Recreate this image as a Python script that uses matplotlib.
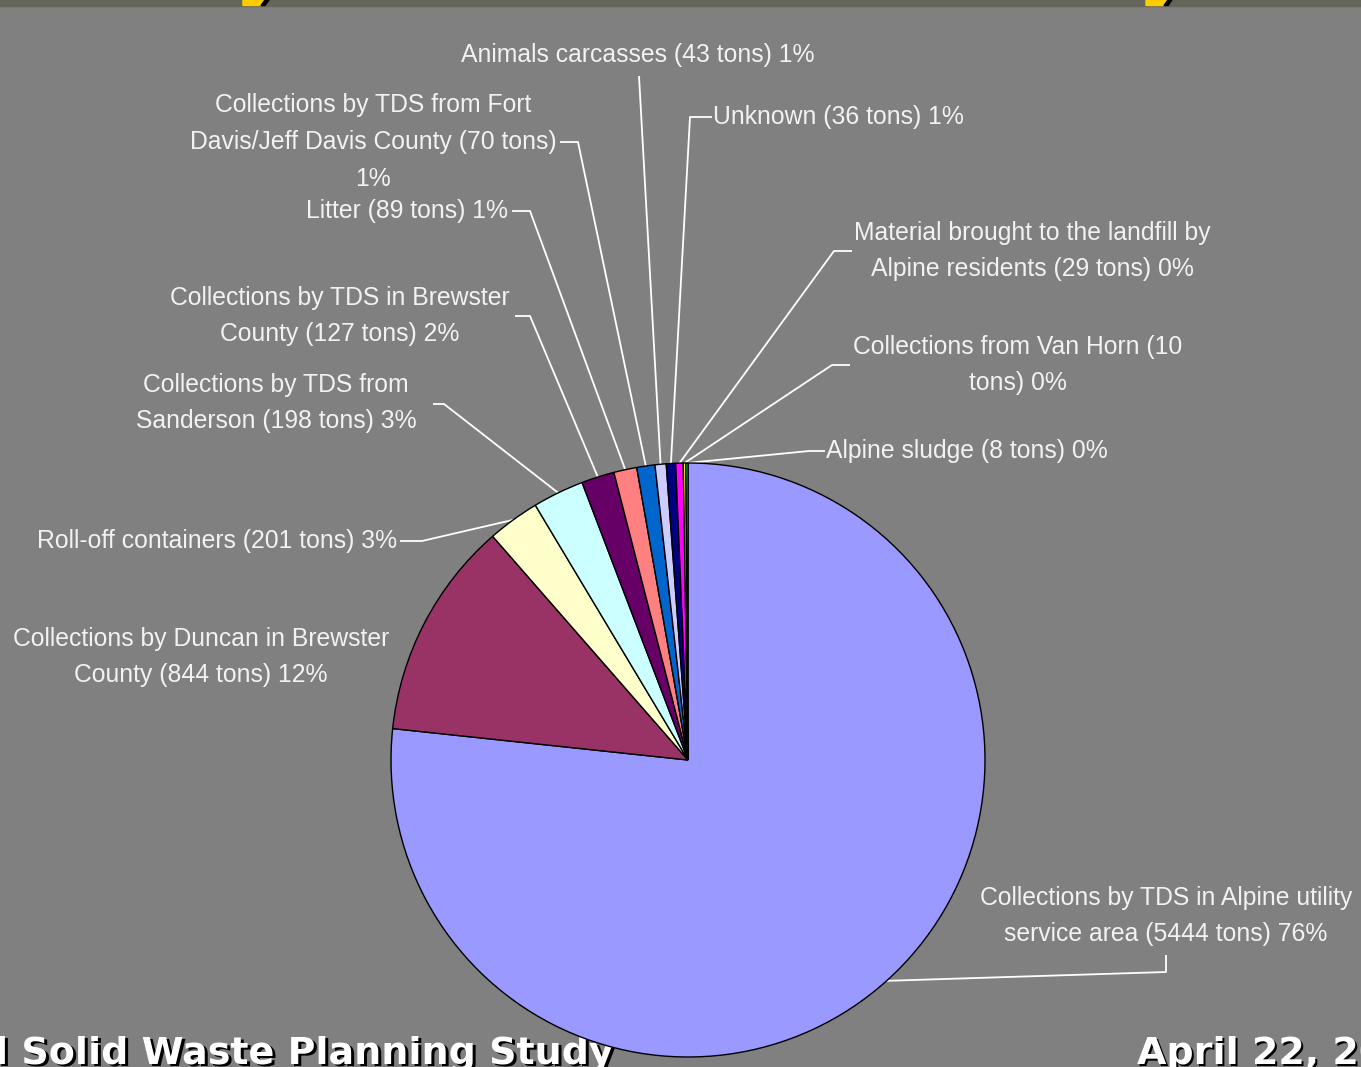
import matplotlib
matplotlib.use("Agg")
import matplotlib.pyplot as plt
from matplotlib.patches import Rectangle, Polygon
import numpy as np

# ---------------- data ----------------
categories = [
    "Collections by TDS in Alpine utility service area",
    "Collections by Duncan in Brewster County",
    "Roll-off containers",
    "Collections by TDS from Sanderson",
    "Collections by TDS in Brewster County",
    "Litter",
    "Collections by TDS from Fort Davis/Jeff Davis County",
    "Animals carcasses",
    "Unknown",
    "Material brought to the landfill by Alpine residents",
    "Collections from Van Horn",
    "Alpine sludge",
]
tons = [5444, 844, 201, 198, 127, 89, 70, 43, 36, 29, 10, 8]
pct_labels = ["76%", "12%", "3%", "3%", "2%", "1%", "1%", "1%", "1%", "0%", "0%", "0%"]
label_texts = [
    "Collections by TDS in Alpine utility\nservice area (5444 tons) 76%",
    "Collections by Duncan in Brewster\nCounty (844 tons) 12%",
    "Roll-off containers (201 tons) 3%",
    "Collections by TDS from\nSanderson (198 tons) 3%",
    "Collections by TDS in Brewster\nCounty (127 tons) 2%",
    "Litter (89 tons) 1%",
    "Collections by TDS from Fort\nDavis/Jeff Davis County (70 tons)\n1%",
    "Animals carcasses (43 tons) 1%",
    "Unknown (36 tons) 1%",
    "Material brought to the landfill by\nAlpine residents (29 tons) 0%",
    "Collections from Van Horn (10\ntons) 0%",
    "Alpine sludge (8 tons) 0%",
]
colors = ["#9999FF", "#993366", "#FFFFCC", "#CCFFFF", "#660066", "#FF8080",
          "#0066CC", "#CCCCFF", "#000080", "#FF00FF", "#FFFF00", "#00FFFF"]

footer_left = "l Solid Waste Planning Study"
footer_right = "April 22, 2005"

# ---------------- layout (pixel coordinates, y down) ----------------
W, H = 1361, 1067
CX, CY, R = 688, 760, 297

# label anchor (x, y, ha), and leader knee points (None = no leader)
label_pos = [
    (1166, 916, "center"),
    (201, 657, "center"),
    (397, 541, "right"),
    (276, 403, "center"),
    (340, 316, "center"),
    (508, 211, "right"),
    (373, 142, "center"),
    (638, 55, "center"),
    (713, 117, "left"),
    (1032, 251, "center"),
    (1018, 365, "center"),
    (826, 451, "left"),
]
leader_knees = [
    [(1166, 955), (1166, 972)],
    None,
    [(400, 541), (422, 541)],
    [(433, 404), (444, 404)],
    [(515, 316), (530, 316)],
    [(512, 211), (530, 211)],
    [(560, 142), (578, 142)],
    [(639, 76)],
    [(712, 117), (690, 117)],
    [(852, 251), (834, 251)],
    [(850, 365), (832, 365)],
    [(825, 451), (809, 451)],
]

BG = "#808080"
TXT = "#F2F2F2"

fig = plt.figure(figsize=(W / 100, H / 100), dpi=100, facecolor=BG)

# overlay axes in pixel coords
ax_o = fig.add_axes([0, 0, 1, 1])
ax_o.set_xlim(0, W)
ax_o.set_ylim(H, 0)
ax_o.axis("off")
ax_o.set_facecolor("none")

# pie axes
ax_p = fig.add_axes([(CX - R) / W, (H - CY - R) / H, 2 * R / W, 2 * R / H])
wedges, _ = ax_p.pie(tons, colors=colors, startangle=90, counterclock=False,
                     radius=1.0,
                     wedgeprops=dict(edgecolor="black", linewidth=1.0))
ax_p.set_xlim(-1, 1)
ax_p.set_ylim(-1, 1)
ax_p.axis("off")
fig.canvas.draw()

to_overlay = ax_o.transData.inverted()
for w, txt, (lx, ly, ha), knees in zip(wedges, label_texts, label_pos, leader_knees):
    ax_o.text(lx, ly, txt, ha=ha, va="center", multialignment="center",
              fontsize=17.8, color=TXT, family=["Liberation Sans", "DejaVu Sans"],
              linespacing=1.66, zorder=5)
    if knees is None:
        continue
    mid = np.deg2rad((w.theta1 + w.theta2) / 2)
    disp = ax_p.transData.transform((np.cos(mid), np.sin(mid)))
    ex, ey = to_overlay.transform(disp)
    xs = [p[0] for p in knees] + [ex]
    ys = [p[1] for p in knees] + [ey]
    ax_o.plot(xs, ys, color="white", lw=1.3, zorder=4, solid_capstyle="butt")

# top strip of slide
ax_o.add_patch(Rectangle((0, 0), W, 5.5, color="#65665A", zorder=1))
for x0 in (243, 1146):
    ax_o.add_patch(Polygon([(x0, 0), (x0 + 21, 0), (x0 + 17, 5.5), (x0, 5.5)],
                           closed=True, color="#FFCC00", zorder=2))
    ax_o.add_patch(Polygon([(x0 + 22, 0), (x0 + 26, 0), (x0 + 22, 5.5), (x0 + 18, 5.5)],
                           closed=True, color="black", zorder=2))

# footer text with shadow
ffam = "DejaVu Sans"
FS = 27.4
for (fx, ftxt) in [(-5, footer_left), (1137, footer_right)]:
    ax_o.text(fx + 2.5, 1064 + 2.5, ftxt, ha="left", va="baseline", fontsize=FS,
              fontweight="bold", color="black", family=ffam, zorder=6)
    ax_o.text(fx, 1064, ftxt, ha="left", va="baseline", fontsize=FS,
              fontweight="bold", color="white", family=ffam, zorder=7)

fig.savefig("out.png", dpi=100, facecolor=BG)
